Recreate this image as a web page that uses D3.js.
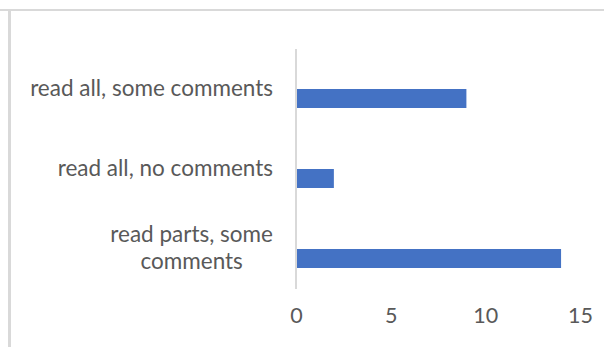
<!DOCTYPE html>
<html>
<head>
<meta charset="utf-8">
<script src="https://cdn.jsdelivr.net/npm/d3@7"></script>
<style>
  body { margin: 0; background: #fff; }
  text { font-family: Lato, "Open Sans", sans-serif; fill: #595959; }
</style>
</head>
<body>
<div id="chart"></div>
<script>
// data
const categories = ["read all, some comments", "read all, no comments", "read parts, some comments"];
const values = [9, 2, 14];
const xTicks = [0, 5, 10, 15];
// labels that wrap to two lines in the original
const labelLines = [["read all, some comments"], ["read all, no comments"], ["read parts, some", "comments"]];

const width = 604;
const height = 347;

const svg = d3
  .select("#chart")
  .append("svg")
  .attr("width", width)
  .attr("height", height);

// outer frame (top and left edges only are visible)
svg.append("line")
  .attr("x1", 0).attr("x2", width)
  .attr("y1", 10).attr("y2", 10)
  .attr("stroke", "#d9d9d9")
  .attr("stroke-width", 2);
svg.append("line")
  .attr("x1", 9.5).attr("x2", 9.5)
  .attr("y1", 10).attr("y2", height)
  .attr("stroke", "#d9d9d9")
  .attr("stroke-width", 3);

// scales
const x = d3.scaleLinear().domain([0, 15]).range([296, 580]);
const y = d3.scaleBand().domain(categories).range([49, 289]).padding(0);

// bars sit in the lower half of each category slot
const barH = y.bandwidth() * 0.2375;
svg.append("g")
  .selectAll("rect")
  .data(categories)
  .join("rect")
  .attr("x", x(0))
  .attr("y", (d) => y(d) + y.bandwidth() / 2)
  .attr("width", (d, i) => x(values[i]) - x(0))
  .attr("height", barH)
  .attr("fill", "#4472c4");

// category axis line
svg.append("line")
  .attr("x1", x(0)).attr("x2", x(0))
  .attr("y1", y.range()[0]).attr("y2", y.range()[1])
  .attr("stroke", "#d9d9d9")
  .attr("stroke-width", 2);

// category labels
const fontSize = 22.5;
const lineH = 27;
const labels = svg.append("g")
  .selectAll("text")
  .data(categories)
  .join("text")
  .attr("font-size", fontSize)
  .attr("text-anchor", "end")
  .attr("transform", (d) => `translate(273,${y(d) + y.bandwidth() / 2})`);

labels.each(function (d, i) {
  const lines = labelLines[i];
  const t = d3.select(this);
  if (lines.length === 1) {
    t.append("tspan").attr("x", 0).attr("dy", "0.3em").text(lines[0]);
  } else {
    // centre-aligned block, right edge at the label column
    const w = lines.map((l) => {
      const tmp = t.append("tspan").text(l);
      const len = tmp.node().getComputedTextLength();
      tmp.remove();
      return len;
    });
    const maxW = d3.max(w);
    t.attr("text-anchor", "middle");
    lines.forEach((l, k) => {
      t.append("tspan")
        .attr("x", -maxW / 2)
        .attr("y", (k - (lines.length - 1) / 2) * lineH)
        .attr("dy", "0.3em")
        .text(l);
    });
  }
});

// value axis labels
const xAxis = d3.axisBottom(x).tickValues(xTicks).tickSize(0).tickPadding(0);
const gx = svg.append("g")
  .attr("transform", "translate(0,308)")
  .call(xAxis);
gx.select(".domain").remove();
gx.selectAll("text")
  .attr("font-size", 21.5)
  .attr("font-family", "Lato, 'Open Sans', sans-serif")
  .attr("fill", "#595959");
</script>
</body>
</html>
